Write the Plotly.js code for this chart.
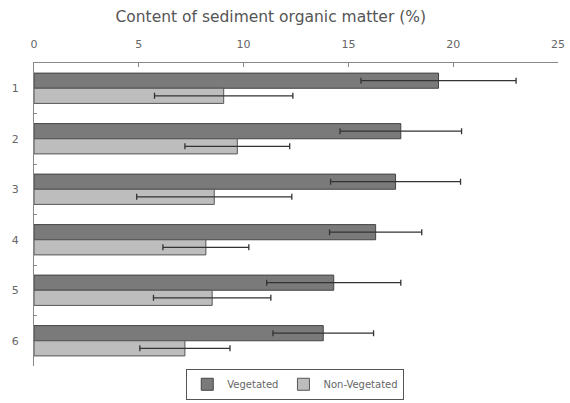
<!DOCTYPE html>
<html><head><meta charset="utf-8">
<script src="https://cdn.plot.ly/plotly-3.0.1.min.js"></script>
<style>html,body{margin:0;padding:0;background:#fff}#c{width:570px;height:403px}</style>
</head><body><div id="c"></div>
<script>
const categories = ["1","2","3","4","5","6"];
const vegetated = [19.3, 17.5, 17.25, 16.3, 14.3, 13.8];
const vegetatedErr = [3.7, 2.9, 3.1, 2.2, 3.2, 2.4];
const nonVegetated = [9.05, 9.7, 8.6, 8.2, 8.5, 7.2];
const nonVegetatedErr = [3.3, 2.5, 3.7, 2.05, 2.8, 2.15];
const xTicks = [0, 5, 10, 15, 20, 25];

const traces = [
  {type:"bar", orientation:"h", name:"Vegetated", y:categories, x:vegetated,
   marker:{color:"#7a7a7a", line:{color:"#444", width:1}},
   error_x:{type:"data", array:vegetatedErr, visible:true, color:"#333", thickness:1.3, width:3}},
  {type:"bar", orientation:"h", name:"Non-Vegetated", y:categories, x:nonVegetated,
   marker:{color:"#bdbdbd", line:{color:"#555", width:1}},
   error_x:{type:"data", array:nonVegetatedErr, visible:true, color:"#333", thickness:1.3, width:3}}
];

const layout = {
  width:570, height:403,
  margin:{l:34, r:12, t:63, b:37},
  paper_bgcolor:"#fff", plot_bgcolor:"#fff",
  font:{family:"DejaVu Sans, sans-serif", size:11, color:"#666"},
  title:{text:"Content of sediment organic matter (%)", x:0.475, xanchor:"center", y:0.958, yanchor:"middle",
         font:{size:15.5, color:"#555"}},
  barmode:"group", bargap:0.4, bargroupgap:0,
  xaxis:{side:"top", range:[0,25], tickvals:xTicks, ticktext:xTicks.map(String),
         showgrid:false, zeroline:false, showline:true, linecolor:"#888", linewidth:1,
         ticks:"inside", ticklen:4, tickcolor:"#888", ticklabelstandoff:10, fixedrange:true},
  yaxis:{autorange:"reversed", type:"category", showgrid:false, zeroline:false,
         showline:true, linecolor:"#888", linewidth:1, ticks:"inside", ticklen:3, tickcolor:"#888",
         tickson:"boundaries", ticklabelstandoff:12},
  legend:{orientation:"h", xref:"container", x:0.518, xanchor:"center", yref:"container", y:0.008, yanchor:"bottom",
          bordercolor:"#555", borderwidth:1, font:{size:10, color:"#666"}, traceorder:"normal",
          itemwidth:30, tracegroupgap:0},
  showlegend:true
};
Plotly.newPlot("c", traces, layout, {displayModeBar:false, staticPlot:true});
</script></body></html>
